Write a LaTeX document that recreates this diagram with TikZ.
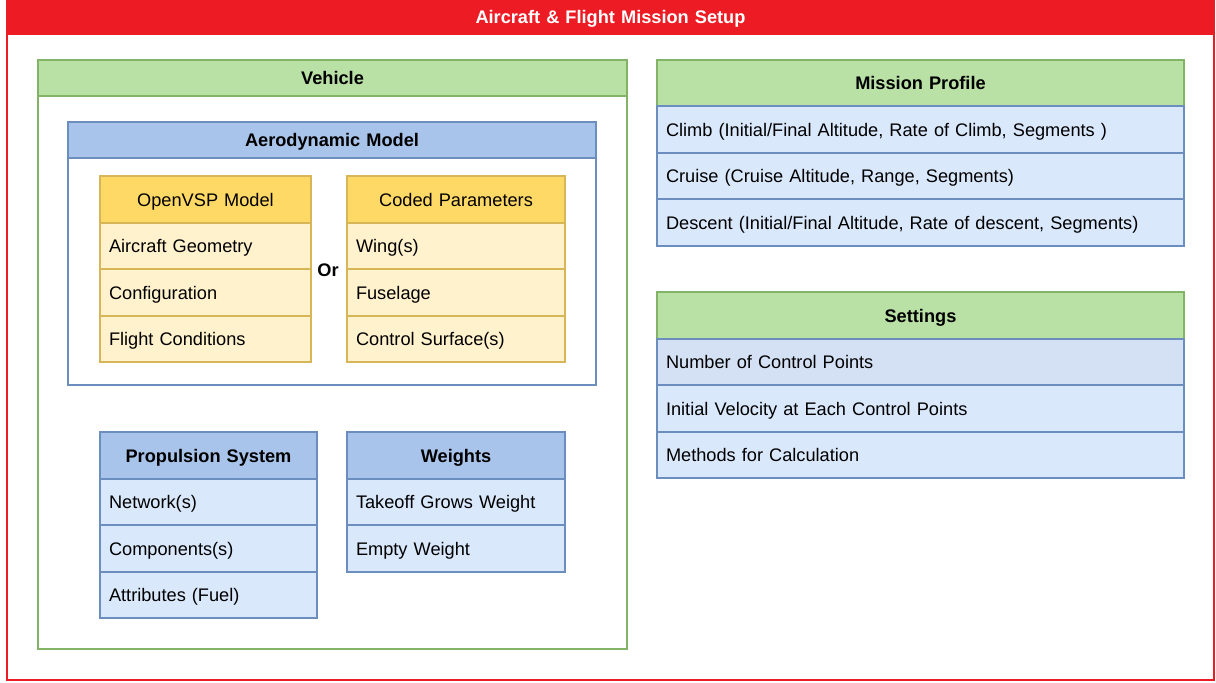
\documentclass[tikz,border=0pt]{standalone}
\usepackage{fontspec}
\setmainfont{Liberation Sans}
\definecolor{redc}{HTML}{ED1C24}
\definecolor{grf}{HTML}{B9E0A5}
\definecolor{grd}{HTML}{82B366}
\definecolor{blh}{HTML}{A9C4EB}
\definecolor{blr}{HTML}{DAE8FC}
\definecolor{blr2}{HTML}{D4E1F5}
\definecolor{bld}{HTML}{6C8EBF}
\definecolor{yeh}{HTML}{FFD966}
\definecolor{yer}{HTML}{FFF2CC}
\definecolor{yed}{HTML}{D6B656}
\newcommand\dfont{\fontsize{9.1pt}{10.9pt}\selectfont}
\tikzset{
  cellbase/.style={draw, line width=0.6pt, inner xsep=4.5pt, inner ysep=0pt, text height=8.5pt, text depth=2pt, font=\dfont},
  lrow/.style={cellbase, align=left},
  crow/.style={cellbase, align=center},
  bhead/.style={crow, fill=blh, draw=bld, font=\dfont\bfseries},
  brow/.style={lrow, fill=blr, draw=bld},
  ghead/.style={crow, fill=grf, draw=grd, font=\dfont\bfseries},
  yhead/.style={crow, fill=yeh, draw=yed},
  yrow/.style={lrow, fill=yer, draw=yed},
  boxw/.style={draw, line width=0.6pt, fill=white},
}
\newcommand\cellbox[7]{%
  \pgfmathsetlengthmacro\cw{(#4-#2)*0.5}%
  \pgfmathsetlengthmacro\ch{(#5-#3)*0.5}%
  \pgfmathsetlengthmacro\tw{(#4-#2)*0.5-9}%
  \node[#6, minimum width=\cw, minimum height=\ch, text width=\tw] (#1) at ({(#2+#4)/2},{(#3+#5)/2}) {#7};%
}
\begin{document}
\begin{tikzpicture}[x=0.5pt,y=-0.5pt]
\useasboundingbox (0,0) rectangle (1216,682);
% outer frame
\draw[draw=redc, line width=1pt, fill=white] (7,1) rectangle (1214,680);
\cellbox{title}{7}{0}{1214}{34}{crow, fill=redc, draw=redc, text=white, font=\dfont\bfseries}{Aircraft \& Flight Mission Setup}
% Vehicle container
\draw[boxw, draw=grd] (38,60) rectangle (627,649);
\cellbox{veh}{38}{60}{627}{96}{ghead}{Vehicle}
% Aerodynamic model container
\draw[boxw, draw=bld] (68,122) rectangle (596,385);
\cellbox{aero}{68}{122}{596}{158}{bhead}{Aerodynamic Model}
% OpenVSP
\cellbox{ovh}{100}{176}{311}{223}{yhead}{OpenVSP Model}
\cellbox{ov1}{100}{223}{311}{269}{yrow}{Aircraft Geometry}
\cellbox{ov2}{100}{269}{311}{316}{yrow}{Configuration}
\cellbox{ov3}{100}{316}{311}{362}{yrow}{Flight Conditions}
% Coded
\cellbox{cph}{347}{176}{565}{223}{yhead}{Coded Parameters}
\cellbox{cp1}{347}{223}{565}{269}{yrow}{Wing(s)}
\cellbox{cp2}{347}{269}{565}{316}{yrow}{Fuselage}
\cellbox{cp3}{347}{316}{565}{362}{yrow}{Control Surface(s)}
\node[font=\dfont\bfseries, inner sep=0pt] (or) at (328,270) {Or};
% Propulsion
\cellbox{prh}{100}{432}{317}{479}{bhead}{Propulsion System}
\cellbox{pr1}{100}{479}{317}{525}{brow}{Network(s)}
\cellbox{pr2}{100}{525}{317}{572}{brow}{Components(s)}
\cellbox{pr3}{100}{572}{317}{618}{brow}{Attributes (Fuel)}
% Weights
\cellbox{wh}{347}{432}{565}{479}{bhead}{Weights}
\cellbox{w1}{347}{479}{565}{525}{brow}{Takeoff Grows Weight}
\cellbox{w2}{347}{525}{565}{572}{brow}{Empty Weight}
% Mission Profile
\cellbox{mph}{657}{60}{1184}{106}{ghead}{Mission Profile}
\cellbox{mp1}{657}{106}{1184}{153}{brow}{Climb (Initial/Final Altitude, Rate of Climb, Segments )}
\cellbox{mp2}{657}{153}{1184}{199}{brow}{Cruise (Cruise Altitude, Range, Segments)}
\cellbox{mp3}{657}{199}{1184}{246}{brow}{Descent (Initial/Final Altitude, Rate of descent, Segments)}
% Settings
\cellbox{sth}{657}{292}{1184}{339}{ghead}{Settings}
\cellbox{st1}{657}{339}{1184}{385}{brow, fill=blr2}{Number of Control Points}
\cellbox{st2}{657}{385}{1184}{432}{brow}{Initial Velocity at Each Control Points}
\cellbox{st3}{657}{432}{1184}{478}{brow}{Methods for Calculation}
\end{tikzpicture}
\end{document}
